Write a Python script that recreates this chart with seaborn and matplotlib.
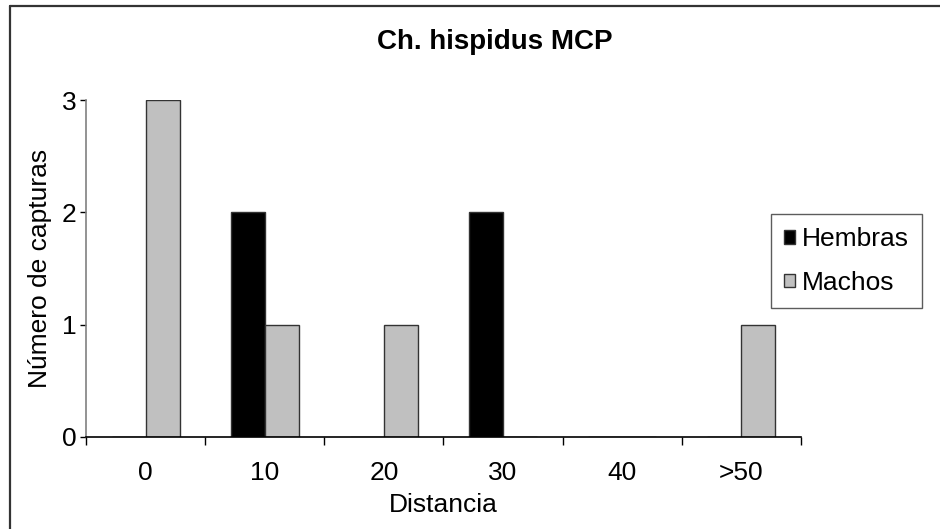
import matplotlib
matplotlib.use("Agg")
import matplotlib.pyplot as plt
from matplotlib.lines import Line2D
from matplotlib.ticker import FixedLocator
import seaborn as sns
import pandas as pd

categories = ["0", "10", "20", "30", "40", ">50"]
hembras = [0, 2, 0, 2, 0, 0]
machos = [3, 1, 1, 0, 0, 1]
yticks = [0, 1, 2, 3]

df = pd.DataFrame({
    "Distancia": categories * 2,
    "Capturas": hembras + machos,
    "Sexo": ["Hembras"] * len(categories) + ["Machos"] * len(categories),
})

sns.set_theme(style="white")
plt.rcParams["font.family"] = ["Liberation Sans", "DejaVu Sans"]
for k in ["text.color", "axes.labelcolor", "xtick.color", "ytick.color"]:
    plt.rcParams[k] = "black"

W, H = 940, 529
fig = plt.figure(figsize=(9.4, 5.29), dpi=100)
ax = fig.add_axes([86 / W, 1 - 437 / H, (801 - 86) / W, (437 - 100) / H])

sns.barplot(data=df, x="Distancia", y="Capturas", hue="Sexo", order=categories,
            palette=["black", "#C0C0C0"], width=0.57, edgecolor="#333333",
            linewidth=1.0, ax=ax, saturation=1)

ax.set_xlim(-0.5, len(categories) - 0.5)
ax.set_ylim(0, 3)
ax.set_yticks(yticks)
ax.tick_params(axis="y", direction="out", length=4, width=1, color="black",
               labelsize=19, left=True, pad=3)
ax.tick_params(axis="x", which="major", length=0, labelsize=19, pad=17)
ax.xaxis.set_minor_locator(FixedLocator([i - 0.5 for i in range(len(categories) + 1)]))
ax.tick_params(axis="x", which="minor", direction="out", length=6, width=1,
               color="black", bottom=True)

for s in ["top", "right"]:
    ax.spines[s].set_visible(False)
ax.spines["left"].set_color("#808080")
ax.spines["bottom"].set_color("black")
ax.spines["left"].set_linewidth(1.2)
ax.spines["bottom"].set_linewidth(1.2)

ax.set_xlabel("Distancia", fontsize=19, labelpad=6)
ax.set_ylabel("Número de capturas", fontsize=19, labelpad=7)
ax.grid(False)

fig.text(495 / W, 1 - 42 / H, "Ch. hispidus MCP", ha="center", va="center",
         fontsize=20, fontweight="bold")

leg = ax.legend(loc="upper left", bbox_to_anchor=(771 / W, 1 - 214 / H),
                bbox_transform=fig.transFigure, fontsize=19, frameon=True,
                fancybox=False, handlelength=0.42, handleheight=0.42,
                handletextpad=0.25, borderpad=0.5, labelspacing=0.75,
                borderaxespad=0)
leg.get_frame().set_edgecolor("#333333")
leg.get_frame().set_linewidth(1.0)
for h in leg.legend_handles:
    h.set_edgecolor("#333333")

fig.add_artist(Line2D([9.5 / W, 1], [1 - 5.5 / H, 1 - 5.5 / H],
                      transform=fig.transFigure, color="#333333", linewidth=1.6))
fig.add_artist(Line2D([9.5 / W, 9.5 / W], [0, 1 - 5.5 / H],
                      transform=fig.transFigure, color="#333333", linewidth=1.6))

fig.savefig("out.png", dpi=100)
